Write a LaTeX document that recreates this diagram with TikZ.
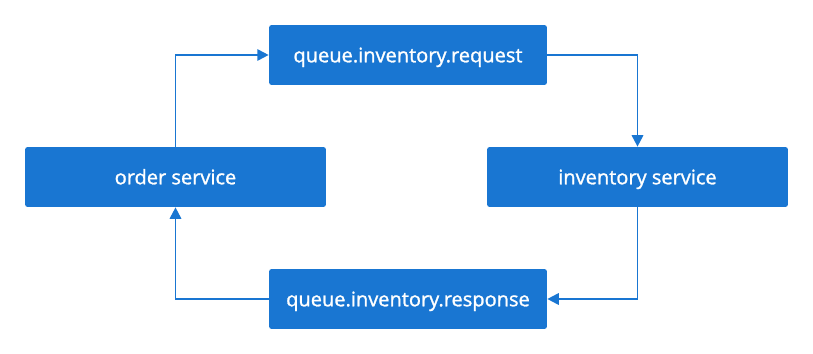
\documentclass[tikz,border=0pt]{standalone}
\usepackage{fontspec}
\setmainfont{Open Sans}[BoldFont={Open Sans}, BoldFeatures={FakeBold=1.3}]
\usetikzlibrary{arrows.meta}

\definecolor{boxblue}{HTML}{1976D2}

\tikzset{
  svc/.style={fill=boxblue, rounded corners=1.5pt, text=white, font=\fontsize{11.4}{13}\bfseries,
    minimum height=1.2cm, inner sep=0pt, text height=10.9pt, text depth=2.6pt},
  link/.style={draw=boxblue, line width=1.1pt, -{Triangle[length=6.5pt, width=6.5pt]}}
}

\begin{document}
\begin{tikzpicture}[x=0.02cm, y=-0.02cm]
    \useasboundingbox (0,0) rectangle (813,354);
    % Queues
    \node[svc, minimum width=5.56cm] (req) at (408,55) {queue.inventory.request};
    \node[svc, minimum width=5.56cm] (resp) at (408,299) {queue.inventory.response};
    % Services
    \node[svc, minimum width=6.02cm] (order) at (175.5,177) {order service};
    \node[svc, minimum width=6.02cm] (inv) at (637.5,177) {inventory service};
    % Flow round the loop
    \draw[link] (order.north) |- (req.west);
    \draw[link] (req.east) -| (inv.north);
    \draw[link] (inv.south) |- (resp.east);
    \draw[link] (resp.west) -| (order.south);
\end{tikzpicture}
\end{document}
